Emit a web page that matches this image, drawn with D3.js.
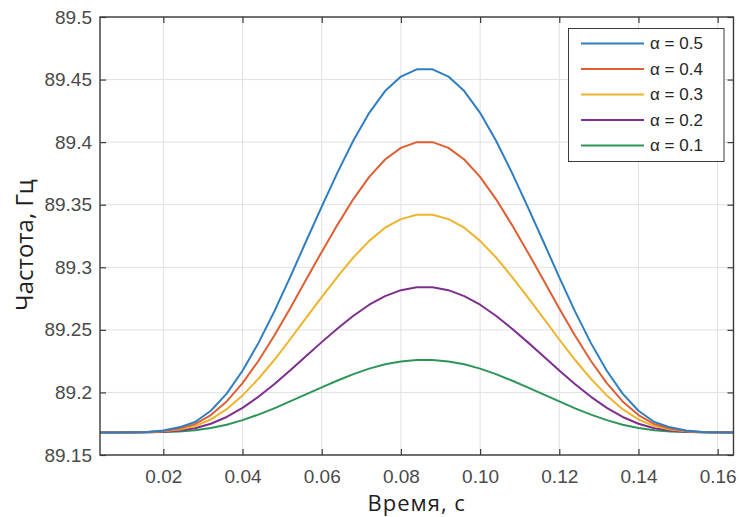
<!DOCTYPE html>
<html>
<head>
<meta charset="utf-8">
<script src="https://cdn.jsdelivr.net/npm/d3@7"></script>
<style>
  html, body { margin: 0; padding: 0; background: #fff; }
  svg { display: block; }
</style>
</head>
<body>
<svg id="chart" width="739" height="517"></svg>
<script>
// ---------- data ----------
const time = [0.004, 0.008, 0.012, 0.016, 0.020, 0.024, 0.028, 0.032, 0.036, 0.040,
  0.044, 0.048, 0.052, 0.056, 0.060, 0.064, 0.068, 0.072, 0.076, 0.080,
  0.084, 0.088, 0.092, 0.096, 0.100, 0.104, 0.108, 0.112, 0.116, 0.120,
  0.124, 0.128, 0.132, 0.136, 0.140, 0.144, 0.148, 0.152, 0.156, 0.160, 0.164];

const alpha05 = [89.168, 89.168, 89.1681, 89.1684, 89.1695, 89.1721, 89.1764, 89.1854, 89.1991, 89.2173,
  89.2394, 89.2646, 89.2919, 89.3204, 89.3485, 89.3758, 89.4013, 89.4234, 89.4408, 89.4524,
  89.4582, 89.4582, 89.4524, 89.4408, 89.4234, 89.4013, 89.3758, 89.3485, 89.3204, 89.2919,
  89.2646, 89.2394, 89.2173, 89.1991, 89.1854, 89.1764, 89.1721, 89.1695, 89.1684, 89.1681, 89.168];

const alpha04 = [89.168, 89.168, 89.1681, 89.1683, 89.1692, 89.1712, 89.1747, 89.1819, 89.1928, 89.2074,
  89.2251, 89.2453, 89.2671, 89.2898, 89.3123, 89.3341, 89.3545, 89.3722, 89.3861, 89.3954,
  89.4000, 89.4000, 89.3954, 89.3861, 89.3722, 89.3545, 89.3341, 89.3123, 89.2898, 89.2671,
  89.2453, 89.2251, 89.2074, 89.1928, 89.1819, 89.1747, 89.1712, 89.1692, 89.1683, 89.1681, 89.168];

const alpha03 = [89.168, 89.168, 89.1681, 89.1683, 89.1689, 89.1704, 89.1731, 89.1784, 89.1866, 89.1976,
  89.2108, 89.2259, 89.2423, 89.2594, 89.2762, 89.2926, 89.3079, 89.3211, 89.3316, 89.3385,
  89.3420, 89.3420, 89.3385, 89.3316, 89.3211, 89.3079, 89.2926, 89.2762, 89.2594, 89.2423,
  89.2259, 89.2108, 89.1976, 89.1866, 89.1784, 89.1731, 89.1704, 89.1689, 89.1683, 89.1681, 89.168];

const alpha02 = [89.168, 89.168, 89.1680, 89.1682, 89.1686, 89.1696, 89.1714, 89.1750, 89.1804, 89.1877,
  89.1965, 89.2066, 89.2175, 89.2289, 89.2402, 89.2511, 89.2613, 89.2701, 89.2770, 89.2817,
  89.2840, 89.2840, 89.2817, 89.2770, 89.2701, 89.2613, 89.2511, 89.2402, 89.2289, 89.2175,
  89.2066, 89.1965, 89.1877, 89.1804, 89.1750, 89.1714, 89.1696, 89.1686, 89.1682, 89.1680, 89.168];

const alpha01 = [89.168, 89.168, 89.1680, 89.1681, 89.1683, 89.1688, 89.1697, 89.1715, 89.1742, 89.1779,
  89.1823, 89.1873, 89.1928, 89.1985, 89.2041, 89.2095, 89.2146, 89.2190, 89.2225, 89.2248,
  89.2260, 89.2260, 89.2248, 89.2225, 89.2190, 89.2146, 89.2095, 89.2041, 89.1985, 89.1928,
  89.1873, 89.1823, 89.1779, 89.1742, 89.1715, 89.1697, 89.1688, 89.1683, 89.1681, 89.1680, 89.168];

const seriesLabels = ["α = 0.5", "α = 0.4", "α = 0.3", "α = 0.2", "α = 0.1"];
const seriesValues = [alpha05, alpha04, alpha03, alpha02, alpha01];
const seriesColors = ["#2f7ec0", "#dd5f33", "#eeb42c", "#7e2f8e", "#2e9558"];

const xTickValues = [0.02, 0.04, 0.06, 0.08, 0.10, 0.12, 0.14, 0.16];
const xTickLabels = ["0.02", "0.04", "0.06", "0.08", "0.10", "0.12", "0.14", "0.16"];
const yTickValues = [89.15, 89.2, 89.25, 89.3, 89.35, 89.4, 89.45, 89.5];
const yTickLabels = ["89.15", "89.2", "89.25", "89.3", "89.35", "89.4", "89.45", "89.5"];

const xLabel = "Время, с";
const yLabel = "Частота, Гц";

// ---------- layout ----------
const svg = d3.select("#chart");
const L = 100, R = 733.5, T = 17, B = 455;

const x = d3.scaleLinear().domain([0.004, 0.164]).range([L, R]);
const y = d3.scaleLinear().domain([89.15, 89.5]).range([B, T]);

svg.append("rect").attr("width", 739).attr("height", 517).attr("fill", "#fff");

// grid
const grid = svg.append("g");
grid.selectAll(".gx").data(xTickValues).join("line")
  .attr("x1", d => x(d)).attr("x2", d => x(d))
  .attr("y1", T).attr("y2", B)
  .attr("stroke", "#e0e0e5").attr("stroke-width", 1);
grid.selectAll(".gy").data(yTickValues).join("line")
  .attr("x1", L).attr("x2", R)
  .attr("y1", d => y(d)).attr("y2", d => y(d))
  .attr("stroke", "#e0e0e5").attr("stroke-width", 1);

// lines
const line = d3.line().x((d, i) => x(time[i])).y(d => y(d));
svg.append("g").selectAll("path").data(seriesValues.slice().reverse()).join("path")
  .attr("d", d => line(d))
  .attr("fill", "none")
  .attr("stroke", (d, i) => seriesColors[seriesColors.length - 1 - i])
  .attr("stroke-width", 2)
  .attr("stroke-linejoin", "round");

// axes
const tickFont = "'Liberation Sans', Arial, sans-serif";
const axisColor = "#3a3a3a";
const labelColor = "#4a4a4a";

function styleAxis(g) {
  g.select(".domain").remove();
  g.selectAll(".tick line").attr("stroke", axisColor).attr("stroke-width", 1.2);
  g.selectAll(".tick text").attr("fill", labelColor)
    .style("font-family", tickFont).style("font-size", "19px");
}

svg.append("g").attr("transform", `translate(0,${B})`)
  .call(d3.axisBottom(x).tickValues(xTickValues)
    .tickFormat((d, i) => xTickLabels[i]).tickSize(-6).tickPadding(15))
  .call(styleAxis);

svg.append("g").attr("transform", `translate(0,${T})`)
  .call(d3.axisTop(x).tickValues(xTickValues).tickFormat("").tickSize(-6))
  .call(styleAxis);

svg.append("g").attr("transform", `translate(${L},0)`)
  .call(d3.axisLeft(y).tickValues(yTickValues)
    .tickFormat((d, i) => yTickLabels[i]).tickSize(-6).tickPadding(8))
  .call(styleAxis);

svg.append("g").attr("transform", `translate(${R},0)`)
  .call(d3.axisRight(y).tickValues(yTickValues).tickFormat("").tickSize(-6))
  .call(styleAxis);

// box
svg.append("rect")
  .attr("x", L).attr("y", T).attr("width", R - L).attr("height", B - T)
  .attr("fill", "none").attr("stroke", axisColor).attr("stroke-width", 1.4);

// axis titles
const titleFont = "'Open Sans', 'Noto Sans', sans-serif";
svg.append("text")
  .attr("x", (L + R) / 2).attr("y", 511)
  .attr("text-anchor", "middle")
  .attr("fill", "#1e1e1e")
  .style("font-family", titleFont).style("font-size", "22px")
  .style("letter-spacing", "1px")
  .text(xLabel);

svg.append("text")
  .attr("transform", `translate(33,245) rotate(-90)`)
  .attr("text-anchor", "middle")
  .attr("fill", "#1e1e1e")
  .style("font-family", titleFont).style("font-size", "24px")
  .text(yLabel);

// legend
const lg = svg.append("g");
lg.append("rect")
  .attr("x", 568.5).attr("y", 28.5).attr("width", 155.5).attr("height", 133)
  .attr("fill", "#fff").attr("stroke", "#3a3a3a").attr("stroke-width", 1);
const rowY = d3.scaleLinear().domain([0, 4]).range([43.5, 145.5]);
const rows = lg.selectAll("g.row").data(seriesLabels).join("g")
  .attr("transform", (d, i) => `translate(0,${rowY(i)})`);
rows.append("line")
  .attr("x1", 581).attr("x2", 644).attr("y1", 0).attr("y2", 0)
  .attr("stroke", (d, i) => seriesColors[i]).attr("stroke-width", 2);
rows.append("text")
  .attr("x", 650).attr("y", 0).attr("dy", "0.35em")
  .attr("fill", "#262626")
  .style("font-family", tickFont).style("font-size", "17px")
  .text(d => d);
</script>
</body>
</html>
